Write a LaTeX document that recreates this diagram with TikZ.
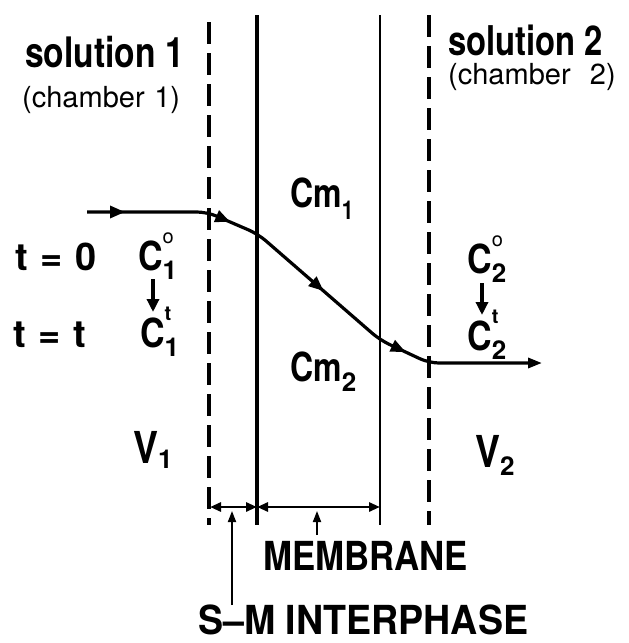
\documentclass[tikz,border=0pt]{standalone}
\usepackage{fontspec}
\setmainfont{TeX Gyre Heros}
\usetikzlibrary{arrows.meta,decorations.markings}
\newcommand\nw[2]{\scalebox{#1}[1]{#2}}
\newcommand\subx[2]{\raisebox{#1}{\fontsize{26}{26}\selectfont #2}}
\newcommand\supx[1]{\raisebox{27pt}{\fontsize{20}{20}\selectfont #1}}
\newcommand\Cx[2]{\nw{0.85}{C}\makebox[0pt][l]{\supx{#2}}\subx{-9pt}{#1}}
\begin{document}
\begin{tikzpicture}[x=1pt,y=-1pt,
  dashln/.style={line width=3.6pt,dash pattern=on 22pt off 9pt},
  solidln/.style={line width=3.6pt},
  thinln/.style={line width=2.8pt},
  curveln/.style={line width=3.2pt,rounded corners=10pt},
  tip/.style={-{Triangle[length=14pt,width=10pt]}},
  dimln/.style={line width=2.8pt,{Triangle[length=11pt,width=9pt]}-{Triangle[length=11pt,width=9pt]}},
  ptr/.style={line width=1.8pt,-{Triangle[length=11pt,width=8pt]}},
  lbl/.style={anchor=base west,inner sep=0pt,font=\bfseries\fontsize{40}{40}\selectfont},
  small/.style={anchor=base west,inner sep=0pt,font=\fontsize{29}{29}\selectfont},
  mark arrow/.style={postaction={decorate,decoration={markings,
     mark=at position 38pt with {\arrow{Triangle[length=15pt,width=12pt]}},
     mark=at position 145pt with {\arrow{Triangle[length=15pt,width=12pt]}},
     mark=at position 262pt with {\arrow{Triangle[length=15pt,width=12pt]}},
     mark=at position 365pt with {\arrow{Triangle[length=15pt,width=12pt]}}}}}
  ]
\useasboundingbox (0,0) rectangle (629,643);
% boundary lines
\coordinate (dLt) at (209,22);  \coordinate (dLb) at (209,525);
\coordinate (sLt) at (257,15);  \coordinate (sLb) at (257,525);
\coordinate (sRt) at (380,15);  \coordinate (sRb) at (380,525);
\coordinate (dRt) at (429,15);  \coordinate (dRb) at (429,525);
\draw[dashln] (dLt) -- (dLb);
\draw[solidln] (sLt) -- (sLb);
\draw[thinln] (sRt) -- (sRb);
\draw[dashln] (dRt) -- (dRb);
% concentration profile
\coordinate (c0) at (87,212);
\coordinate (c1) at (207,212);
\coordinate (c2) at (258,234);
\coordinate (c3) at (380,340);
\coordinate (c4) at (429,363);
\coordinate (c5) at (542,363);
\draw[curveln,mark arrow,tip] (c0) -- (c1) -- (c2) -- (c3) -- (c4) -- (c5);
% labels
\node[lbl,font=\bfseries\fontsize{42}{42}\selectfont] (sol1) at (25,67) {\nw{0.8}{solution 1}};
\node[small] (ch1) at (22,107) {(chamber\,\,1)};
\node[lbl,font=\bfseries\fontsize{41}{41}\selectfont] (sol2) at (448,55) {\nw{0.8}{solution 2}};
\node[small] (ch2) at (448,84) {(chamber\,\,\,\,2)};
\node[lbl] (cm1) at (290,207) {\nw{0.8}{Cm}\subx{-12pt}{\nw{0.8}{1}}};
\node[lbl] (cm2) at (290,381) {\nw{0.8}{Cm}\subx{-10pt}{2}};
\node[lbl,font=\bfseries\fontsize{38}{38}\selectfont] (t0) at (15,270) {t\,\,=\,\,0};
\node[lbl,font=\bfseries\fontsize{38}{38}\selectfont] (tt) at (13,347) {t\,\,=\,\,t};
\node[lbl] (c1o) at (138,270) {\Cx{1}{\mdseries o}};
\node[lbl] (c1t) at (140,347) {\Cx{1}{t}};
\node[lbl] (c2o) at (467,273) {\Cx{2}{\mdseries o}};
\node[lbl] (c2t) at (467,350) {\Cx{2}{t}};
\node[lbl,font=\bfseries\fontsize{44}{44}\selectfont] (v1) at (133,463) {\nw{0.85}{V}\subx{-5pt}{1}};
\node[lbl,font=\bfseries\fontsize{44}{44}\selectfont] (v2) at (475,467) {\nw{0.85}{V}\subx{-8pt}{2}};
\node[lbl] (mem) at (263,570) {\nw{0.87}{MEMBRANE}};
\node[lbl] (smi) at (198,634) {\nw{0.94}{S--M INTERPHASE}};
% time arrows
\coordinate (a1s) at (153,279); \coordinate (a1e) at (153,312);
\coordinate (a2s) at (482,283); \coordinate (a2e) at (482,315);
\draw[line width=3.4pt,-{Triangle[length=13pt,width=12pt]}] (a1s) -- (a1e);
\draw[line width=3.4pt,-{Triangle[length=13pt,width=12pt]}] (a2s) -- (a2e);
% dimension line
\coordinate (m0) at (210,507); \coordinate (m1) at (257,507); \coordinate (m2) at (380,507);
\draw[dimln] (m0) -- (m1);
\draw[dimln] (m1) -- (m2);
% pointers
\coordinate (p1) at (232,511); \coordinate (p1s) at (232,605);
\coordinate (p2) at (317,511); \coordinate (p2s) at (317,535);
\draw[ptr] (p1s) -- (p1);
\draw[ptr] (p2s) -- (p2);
\end{tikzpicture}
\end{document}
